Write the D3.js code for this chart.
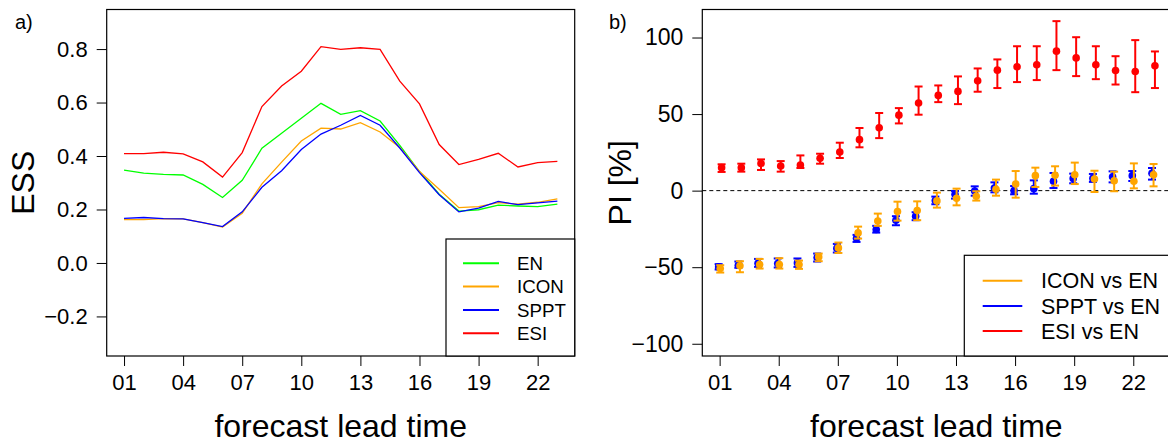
<!DOCTYPE html>
<html>
<head>
<meta charset="utf-8">
<script src="https://cdn.jsdelivr.net/npm/d3@7"></script>
<style>
  body { margin: 0; background: #fff; }
  svg { display: block; font-family: "Liberation Sans", Arial, sans-serif; }
</style>
</head>
<body>
<div id="chart"></div>
<script>
// ---------------------------------------------------------------------------
// Data

const leadTime = [1, 2, 3, 4, 5, 6, 7, 8, 9, 10, 11, 12, 13, 14, 15, 16, 17, 18, 19, 20, 21, 22, 23];
const xTickValues = [1, 4, 7, 10, 13, 16, 19, 22];
const xTickLabels = ['01', '04', '07', '10', '13', '16', '19', '22'];

// panel a) ESS
const essTicks = [-0.2, 0, 0.2, 0.4, 0.6, 0.8];
const essTickLabels = ['\u22120.2', '0.0', '0.2', '0.4', '0.6', '0.8'];
const essEN = [0.347, 0.336, 0.331, 0.329, 0.294, 0.245, 0.309, 0.429, 0.485, 0.541, 0.597, 0.556, 0.570, 0.531, 0.440, 0.342, 0.257, 0.194, 0.199, 0.216, 0.213, 0.211, 0.220];
const essICON = [0.162, 0.162, 0.166, 0.165, 0.151, 0.134, 0.186, 0.296, 0.377, 0.456, 0.504, 0.501, 0.525, 0.490, 0.432, 0.342, 0.276, 0.207, 0.211, 0.226, 0.220, 0.227, 0.240];
const essSPPT = [0.167, 0.170, 0.166, 0.165, 0.151, 0.136, 0.191, 0.283, 0.345, 0.424, 0.482, 0.515, 0.552, 0.515, 0.430, 0.338, 0.255, 0.191, 0.205, 0.230, 0.218, 0.225, 0.231];
const essESI = [0.409, 0.409, 0.414, 0.408, 0.378, 0.321, 0.413, 0.585, 0.662, 0.717, 0.809, 0.799, 0.805, 0.799, 0.680, 0.595, 0.443, 0.368, 0.387, 0.410, 0.359, 0.375, 0.380];

// panel b) PI [%] with confidence intervals
const piTicks = [-100, -50, 0, 50, 100];
const piTickLabels = ['\u2212100', '\u221250', '0', '50', '100'];
const piICON = [-50.9, -49.1, -48.3, -48.3, -48.3, -43.3, -37.4, -27.6, -19.8, -13.7, -13.0, -6.7, -5.0, -3.7, 0.9, 4.3, 9.8, 10.0, 10.4, 7.6, 6.5, 6.1, 10.4];
const piICONlo = [-53.5, -53.3, -50.9, -50.9, -51.1, -46.1, -40.7, -31.3, -23.0, -19.6, -19.3, -11.1, -9.6, -6.5, -3.3, -4.6, 2.4, 3.3, 4.3, -0.9, -0.4, 1.5, 2.8];
const piICONhi = [-48.7, -46.1, -44.6, -44.1, -45.7, -41.1, -33.9, -23.5, -15.0, -7.2, -7.0, -1.3, 1.3, -0.4, 7.2, 12.8, 15.0, 15.9, 18.3, 13.0, 12.4, 17.8, 17.4];
const piSPPT = [-49.8, -48.7, -47.4, -47.6, -47.2, -43.7, -37.6, -31.1, -25.4, -19.3, -16.7, -6.5, -2.4, -0.2, 1.7, 0.0, 1.3, 6.1, 8.0, 8.0, 9.1, 9.8, 11.3];
const piSPPTlo = [-51.5, -50.4, -49.8, -50.2, -49.8, -46.3, -40.4, -33.5, -27.4, -22.6, -19.3, -8.9, -5.2, -3.3, -1.1, -2.4, -2.0, 1.7, 4.8, 5.7, 5.4, 6.3, 7.2];
const piSPPThi = [-48.0, -46.3, -44.6, -44.3, -44.3, -41.1, -34.8, -28.9, -23.0, -16.7, -14.1, -3.9, -0.2, 2.8, 5.4, 3.0, 6.7, 11.5, 11.1, 10.9, 12.6, 12.8, 14.8];
const piESI = [15.0, 15.0, 17.8, 16.1, 16.7, 21.1, 25.2, 33.3, 41.1, 49.3, 57.2, 62.2, 64.8, 71.7, 78.7, 80.9, 82.2, 91.1, 86.7, 82.2, 78.5, 77.8, 81.5];
const piESIlo = [12.2, 12.4, 13.5, 12.4, 14.8, 17.6, 21.3, 28.3, 34.3, 43.9, 49.6, 57.8, 56.5, 64.6, 67.0, 70.9, 72.2, 78.7, 74.8, 72.8, 69.3, 64.3, 67.0];
const piESIhi = [17.2, 17.6, 20.4, 19.3, 23.0, 24.1, 31.3, 40.9, 50.7, 53.9, 68.0, 68.7, 74.6, 79.8, 85.7, 94.3, 94.3, 110.7, 100.2, 94.3, 87.8, 98.3, 90.9];

// ---------------------------------------------------------------------------
// Series (drawing order)

const essSeries = [
  {name: 'EN', color: '#00ff00', values: essEN},
  {name: 'ICON', color: '#ffa500', values: essICON},
  {name: 'SPPT', color: '#0000ff', values: essSPPT},
  {name: 'ESI', color: '#ff0000', values: essESI}
];

const piSeries = [
  {name: 'SPPT vs EN', color: '#0000ff', values: piSPPT, lo: piSPPTlo, hi: piSPPThi, shift: -0.05},
  {name: 'ICON vs EN', color: '#ffa500', values: piICON, lo: piICONlo, hi: piICONhi, shift: 0.03},
  {name: 'ESI vs EN', color: '#ff0000', values: piESI, lo: piESIlo, hi: piESIhi, shift: 0.1}
];
const piLegendOrder = ['ICON vs EN', 'SPPT vs EN', 'ESI vs EN'];

// ---------------------------------------------------------------------------
// Layout

const width = 1168;
const height = 441;
const plotTop = 9.5;
const plotBottom = 356;
const xDomain = [0.12, 23.88];

const svg = d3.select('#chart').append('svg')
  .attr('width', width)
  .attr('height', height);

function drawFrame(g, x, y, yTicks, yLabels, yTickSize, yTitle, yTitleX, tag, tagX) {
  // x axis
  const xAxis = d3.axisBottom(x)
    .tickValues(xTickValues)
    .tickFormat((d, i) => xTickLabels[i])
    .tickSize(10)
    .tickPadding(8);
  const gx = g.append('g')
    .attr('transform', `translate(0,${plotBottom})`)
    .call(xAxis);
  gx.select('.domain').remove();
  gx.selectAll('text')
    .attr('font-size', 22)
    .attr('font-family', '"Liberation Sans", Arial, sans-serif')
    .attr('fill', '#000');

  // y axis
  const yAxis = d3.axisLeft(y)
    .tickValues(yTicks)
    .tickFormat((d, i) => yLabels[i])
    .tickSize(10)
    .tickPadding(9);
  const gy = g.append('g')
    .attr('transform', `translate(${x.range()[0]},0)`)
    .call(yAxis);
  gy.select('.domain').remove();
  gy.selectAll('text')
    .attr('font-size', yTickSize)
    .attr('font-family', '"Liberation Sans", Arial, sans-serif')
    .attr('fill', '#000');
  g.selectAll('.tick line').attr('stroke', '#000').attr('stroke-width', 1);

  // box
  g.append('rect')
    .attr('x', x.range()[0])
    .attr('y', plotTop)
    .attr('width', x.range()[1] - x.range()[0])
    .attr('height', plotBottom - plotTop)
    .attr('fill', 'none')
    .attr('stroke', '#000')
    .attr('stroke-width', 1.2);

  // titles
  const xMid = (x.range()[0] + x.range()[1]) / 2;
  g.append('text')
    .attr('x', xMid)
    .attr('y', 437)
    .attr('text-anchor', 'middle')
    .attr('font-size', 32)
    .text('forecast lead time');

  g.append('text')
    .attr('transform', `translate(${yTitleX},${(plotTop + plotBottom) / 2}) rotate(-90)`)
    .attr('text-anchor', 'middle')
    .attr('font-size', 32)
    .text(yTitle);

  g.append('text')
    .attr('x', tagX)
    .attr('y', 29)
    .attr('font-size', 20)
    .text(tag);
}

// ---------------------------------------------------------------------------
// Panel a) ESS lines

const xA = d3.scaleLinear().domain(xDomain).range([106.7, 574.7]);
const yA = d3.scaleLinear().domain([-0.348, 0.948]).range([plotBottom, plotTop]);
const gA = svg.append('g');

const line = d3.line()
  .x((d, i) => xA(leadTime[i]))
  .y(d => yA(d));

gA.selectAll('path.ess')
  .data(essSeries)
  .enter()
  .append('path')
  .attr('class', 'ess')
  .attr('d', d => line(d.values))
  .attr('fill', 'none')
  .attr('stroke', d => d.color)
  .attr('stroke-width', 1.3);

drawFrame(gA, xA, yA, essTicks, essTickLabels, 22, 'ESS', 34, 'a)', 15);

// legend a)
const legA = gA.append('g');
legA.append('rect')
  .attr('x', 446).attr('y', 239)
  .attr('width', 574.7 - 446).attr('height', plotBottom - 239)
  .attr('fill', '#fff').attr('stroke', '#000').attr('stroke-width', 1.2);
const legAItems = legA.selectAll('g.item')
  .data(essSeries)
  .enter()
  .append('g')
  .attr('class', 'item')
  .attr('transform', (d, i) => `translate(0,${263.3 + i * 23.3})`);
legAItems.append('line')
  .attr('x1', 463).attr('x2', 499)
  .attr('stroke', d => d.color).attr('stroke-width', 2);
legAItems.append('text')
  .attr('x', 517).attr('dy', '0.36em')
  .attr('font-size', 18.7)
  .text(d => d.name);

// ---------------------------------------------------------------------------
// Panel b) PI with error bars

const xB = d3.scaleLinear().domain(xDomain).range([702.3, 1170.3]);
const yB = d3.scaleLinear().domain([-108, 118.3]).range([plotBottom, plotTop]);
const gB = svg.append('g');

gB.append('line')
  .attr('x1', xB.range()[0]).attr('x2', xB.range()[1])
  .attr('y1', yB(0)).attr('y2', yB(0))
  .attr('stroke', '#000').attr('stroke-width', 1)
  .attr('stroke-dasharray', '4,3');

const capHalf = 4;
piSeries.forEach(s => {
  const gs = gB.append('g');
  const pts = leadTime.map((t, i) => ({t: t + s.shift, v: s.values[i], lo: s.lo[i], hi: s.hi[i]}));
  gs.selectAll('line.bar').data(pts).enter().append('line')
    .attr('class', 'bar')
    .attr('x1', d => xB(d.t)).attr('x2', d => xB(d.t))
    .attr('y1', d => yB(d.lo)).attr('y2', d => yB(d.hi))
    .attr('stroke', s.color).attr('stroke-width', 2);
  ['lo', 'hi'].forEach(k => {
    gs.selectAll('line.cap-' + k).data(pts).enter().append('line')
      .attr('class', 'cap-' + k)
      .attr('x1', d => xB(d.t) - capHalf).attr('x2', d => xB(d.t) + capHalf)
      .attr('y1', d => yB(d[k])).attr('y2', d => yB(d[k]))
      .attr('stroke', s.color).attr('stroke-width', 2);
  });
  gs.selectAll('circle').data(pts).enter().append('circle')
    .attr('cx', d => xB(d.t)).attr('cy', d => yB(d.v))
    .attr('r', 3.8)
    .attr('fill', s.color);
});

drawFrame(gB, xB, yB, piTicks, piTickLabels, 23, 'PI [%]', 631, 'b)', 609);

// legend b)
const legB = gB.append('g');
legB.append('rect')
  .attr('x', 964.3).attr('y', 255.3)
  .attr('width', 1170.3 - 964.3).attr('height', plotBottom - 255.3)
  .attr('fill', '#fff').attr('stroke', '#000').attr('stroke-width', 1.2);
const legBItems = legB.selectAll('g.item')
  .data(piLegendOrder.map(n => piSeries.find(s => s.name === n)))
  .enter()
  .append('g')
  .attr('class', 'item')
  .attr('transform', (d, i) => `translate(0,${280.7 + i * 25.2})`);
legBItems.append('line')
  .attr('x1', 982.7).attr('x2', 1022.3)
  .attr('stroke', d => d.color).attr('stroke-width', 2);
legBItems.append('text')
  .attr('x', 1041).attr('dy', '0.36em')
  .attr('font-size', 21.5)
  .text(d => d.name);
</script>
</body>
</html>
